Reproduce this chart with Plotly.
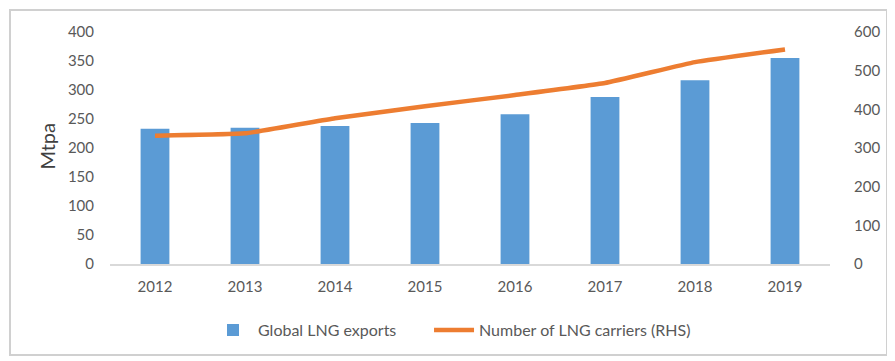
import plotly.graph_objects as go

years = ["2012", "2013", "2014", "2015", "2016", "2017", "2018", "2019"]
lng_exports = [233, 235, 238, 243, 258, 288, 317, 355]
lng_carriers = [332, 338, 377, 408, 437, 468, 522, 555]

font_family = "Lato, 'Open Sans', sans-serif"
tick_color = "#595959"

fig = go.Figure()
fig.add_trace(go.Bar(
    x=years, y=lng_exports, name="Global LNG exports",
    marker=dict(color="#5b9bd5", line=dict(width=0)),
    yaxis="y", legend="legend",
))
fig.add_trace(go.Scatter(
    x=years, y=lng_carriers, name="Number of LNG carriers (RHS)",
    mode="lines", line=dict(color="#ed7d31", width=4.5, shape="spline", smoothing=0.3),
    yaxis="y2", legend="legend2",
))

legend_common = dict(
    orientation="h", xanchor="left", y=-0.285, yanchor="middle",
    font=dict(size=16, color=tick_color), itemwidth=40, tracegroupgap=0,
    bgcolor="rgba(0,0,0,0)",
)

# page body has an 8px default margin; size the figure to compensate
fig.update_layout(
    width=887, height=353,
    margin=dict(l=102, r=65, t=24, b=97),
    paper_bgcolor="white", plot_bgcolor="white",
    bargap=0.68,
    font=dict(family=font_family, size=15, color=tick_color),
    xaxis=dict(
        showgrid=False, showline=True, linecolor="#d9d9d9", linewidth=2,
        ticks="", tickfont=dict(size=15, color=tick_color), ticklabelstandoff=8,
    ),
    yaxis=dict(
        range=[0, 400], dtick=50, showgrid=False, zeroline=False, showline=False,
        ticks="", tickfont=dict(size=15, color=tick_color), ticklabelstandoff=15,
    ),
    yaxis2=dict(
        range=[0, 600], dtick=100, overlaying="y", side="right", showgrid=False,
        zeroline=False, showline=False, ticks="",
        tickfont=dict(size=15, color=tick_color), ticklabelstandoff=23,
    ),
    legend=dict(x=0.1361, **legend_common),
    legend2=dict(x=0.4431, **legend_common),
    showlegend=True,
    annotations=[dict(
        text="Mtpa", x=-0.0875, y=0.506, xref="paper", yref="paper",
        textangle=-90, showarrow=False, font=dict(size=20, color="#404040"),
        xanchor="center", yanchor="middle",
    )],
    shapes=[dict(
        type="rect", xref="paper", yref="paper",
        x0=-0.1389, x1=1.0792, y0=-0.392, y1=1.0948,
        line=dict(color="#d0d0d0", width=2), fillcolor="rgba(0,0,0,0)", layer="above",
    )],
)

fig.write_html("out.html")
